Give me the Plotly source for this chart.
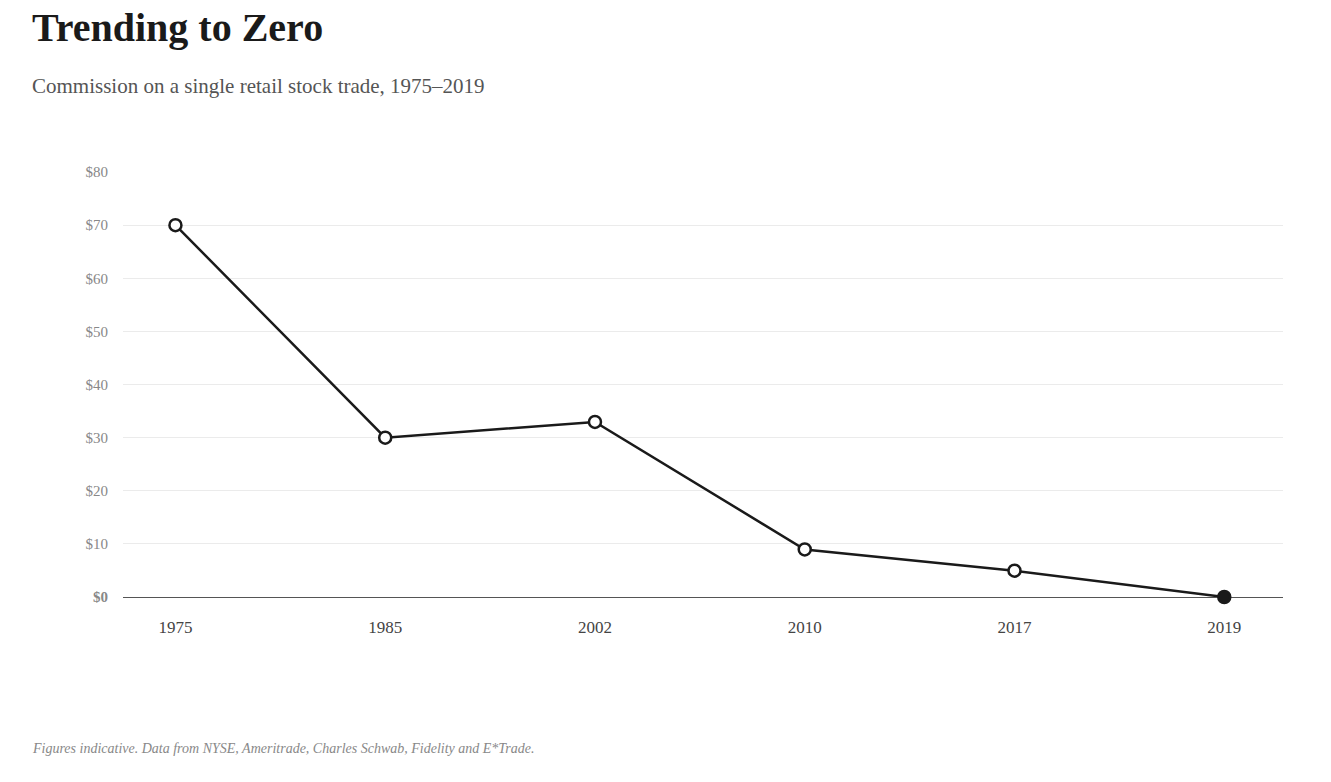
import plotly.graph_objects as go

years = ["1975", "1985", "2002", "2010", "2017", "2019"]
commission = [70, 30, 32.95, 8.95, 4.95, 0]
labels = ["$70", "$30", "$32.95", "$8.95", "$4.95", "$0.00"]
label_shift = [30, -26, 28, 28, 28, 30]
y_ticks = [0, 10, 20, 30, 40, 50, 60, 70, 80]
y_ticklabels = ["<b>$0</b>", "$10", "$20", "$30", "$40", "$50", "$60", "$70", "$80"]

FONT = "Liberation Serif"
# page renders with an 8px body offset, so margins are pulled back by 8px
L, R, T, B = 115, 56, 164, 193
W, H = 1331, 782

fig = go.Figure()
fig.add_trace(go.Scatter(
    x=years, y=commission, mode="lines+markers",
    line=dict(color="#1a1a1a", width=2.5),
    marker=dict(size=12, color=["white"] * 5 + ["#1a1a1a"],
                line=dict(color="#1a1a1a", width=2.5)),
    cliponaxis=False, hoverinfo="skip",
))

point_notes = [
    dict(x=x, y=y, text=f"<b>{t}</b>", showarrow=False, yshift=s,
         font=dict(family=FONT, size=23 if i == 5 else 19, color="#1a1a1a"))
    for i, (x, y, t, s) in enumerate(zip(years, commission, labels, label_shift))
]


def px_note(text, x, y, size, color):
    return dict(text=text, xref="paper", yref="paper",
                x=(x - L) / (W - L - R), y=(y - B) / (H - T - B),
                showarrow=False, xanchor="left", yanchor="middle",
                font=dict(size=size, color=color, family=FONT))


fig.update_layout(
    width=W, height=H,
    margin=dict(l=L, r=R, t=T, b=B),
    paper_bgcolor="white", plot_bgcolor="white",
    showlegend=False,
    font=dict(family=FONT, color="#444"),
    xaxis=dict(type="category", range=[-0.25, 5.28], showgrid=False,
               showline=False, ticks="", ticklabelstandoff=18,
               tickfont=dict(size=17, color="#444")),
    yaxis=dict(range=[0, 80], tickvals=y_ticks, ticktext=y_ticklabels,
               gridcolor="#ebebeb", zeroline=True, zerolinecolor="#555",
               zerolinewidth=1.2, ticks="", ticklabelstandoff=14,
               tickfont=dict(size=15, color="#888")),
    annotations=point_notes + [
        px_note("<b>Trending to Zero</b>", 22, 762, 40, "#1a1a1a"),
        px_note("Commission on a single retail stock trade, 1975–2019", 22, 704, 21, "#555"),
        px_note("<i>Figures indicative. Data from NYSE, Ameritrade, Charles Schwab, Fidelity and E*Trade.</i>",
                22, 42, 14, "#888"),
    ],
)

fig.write_html("out.html")
